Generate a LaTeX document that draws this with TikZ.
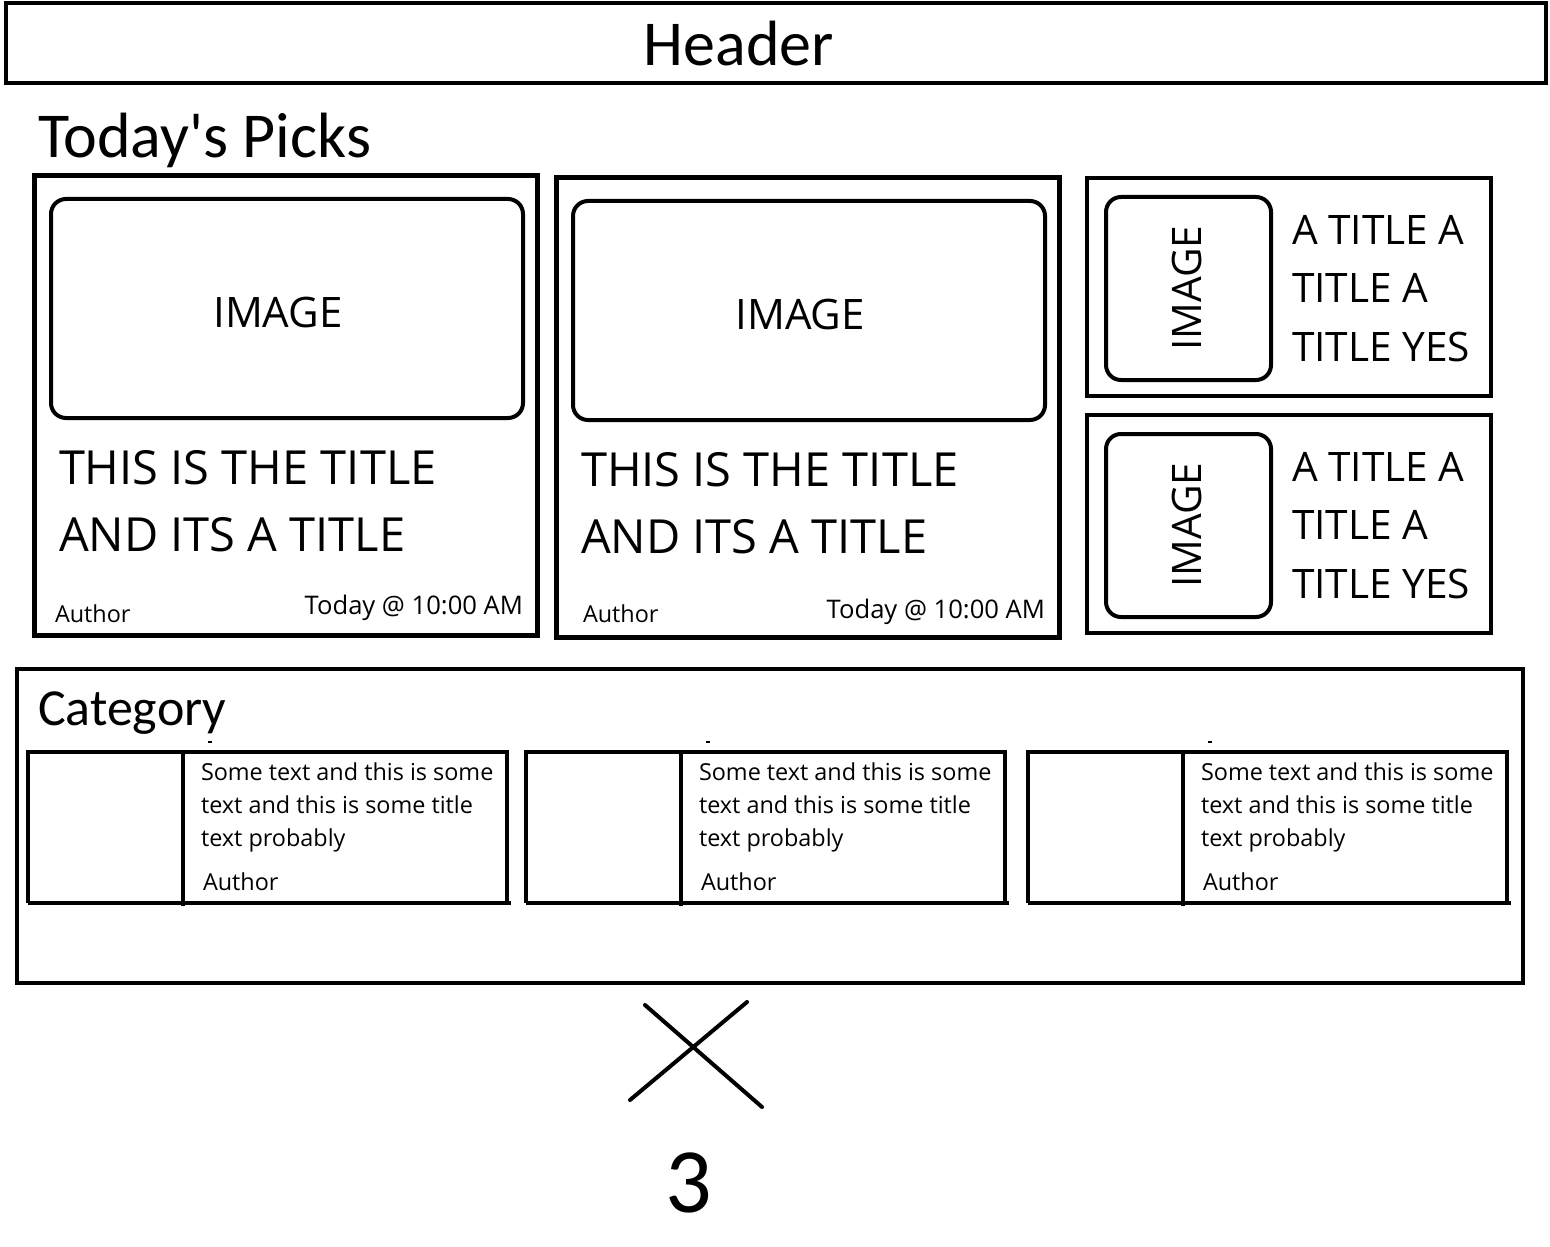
\documentclass[tikz,border=0pt]{standalone}
\usepackage{fontspec}
\setmainfont{Open Sans}
\newfontfamily\calfont{Carlito}

\begin{document}
\begin{tikzpicture}[x=0.5pt, y=-0.5pt, line width=2pt,
  txt/.style={inner sep=0pt},
  bigfont/.style={txt, font=\calfont\fontsize{32}{36}\selectfont},
  catfont/.style={txt, font=\calfont\fontsize{26}{30}\selectfont},
  imgfont/.style={txt, font=\fontsize{21}{25}\selectfont},
  titlefont/.style={txt, font=\fontsize{23.5}{28}\selectfont},
  sidefont/.style={txt, font=\fontsize{20.3}{24}\selectfont},
  smallfont/.style={txt, font=\fontsize{11.7}{14}\selectfont},
  timefont/.style={txt, font=\fontsize{12.8}{15}\selectfont},
  imgbox/.style={draw, rounded corners=7.5pt}]
\useasboundingbox (0,0) rectangle (1550,1246);
% header
\draw (6,3) rectangle (1546,83);
\node[bigfont, anchor=base] (header) at (739,66) {Header};
\node[bigfont, anchor=base west] (picks) at (36,158) {Today's Picks};
% big cards
\foreach \i/\dx/\dy/\ax in {1/0/0/53, 2/522/2/581}{
	\draw[line width=2.5pt] (34+\dx,176+\dy) rectangle (537+\dx,635+\dy);
	\draw[imgbox] (51+\dx,199+\dy) rectangle (523+\dx,418+\dy);
	\node[imgfont] (image\i) at (278+\dx,312+\dy) {IMAGE};
	\node[titlefont, anchor=base west] (title\i) at (57+\dx,484+\dy) {THIS IS THE TITLE};
	\node[titlefont, anchor=base west] (subtitle\i) at (57+\dx,551+\dy) {AND ITS A TITLE};
	\node[smallfont, anchor=base west] (author\i) at (\ax,622) {Author};
	\node[timefont, anchor=base east] (time\i) at (525+\dx,614+2*\dy) {Today @ 10:00 AM};
	}
% side cards
\foreach \i/\dy in {1/0, 2/237}{
	\draw (1087,178+\dy) rectangle (1491,396+\dy);
	\draw[imgbox] (1106,197+\dy) rectangle (1271,380+\dy);
	\node[sidefont, rotate=90] (sideimg\i) at (1187,288+\dy) {IMAGE};
	\foreach \t [count=\k] in {A TITLE A, TITLE A, TITLE YES}{
		\node[sidefont, anchor=base west] (side\i\k) at (1290,244+58.5*\k-58.5+\dy) {\t};
		}
	}
% category
\draw (17,669) rectangle (1523,983);
\node[catfont, anchor=base west] (category) at (36,725) {Category};
\foreach \i/\dx in {1/0, 2/498, 3/1000}{
	\draw (28+\dx,903) -- (28+\dx,752) -- (507+\dx,752) -- (507+\dx,903);
	\draw (28+\dx,903) -- (511+\dx,903);
	\draw (183+\dx,752) -- (183+\dx,906);
	\draw[line width=1pt] (208+\dx,742) -- (212+\dx,742);
	\node[smallfont, anchor=base west] (text\i a) at (199+\dx,780) {Some text and this is some};
	\node[smallfont, anchor=base west] (text\i b) at (199+\dx,813) {text and this is some title};
	\node[smallfont, anchor=base west] (text\i c) at (199+\dx,846) {text probably};
	\node[smallfont, anchor=base west] (cauthor\i) at (201+\dx,890) {Author};
	}
% close mark and page number
\draw[line cap=round] (645,1005) -- (762,1107);
\draw[line cap=round] (747,1002) -- (630,1100);
\node[txt, font=\calfont\fontsize{46}{50}\selectfont, anchor=base] (page) at (689,1212) {3};
\end{tikzpicture}
\end{document}
